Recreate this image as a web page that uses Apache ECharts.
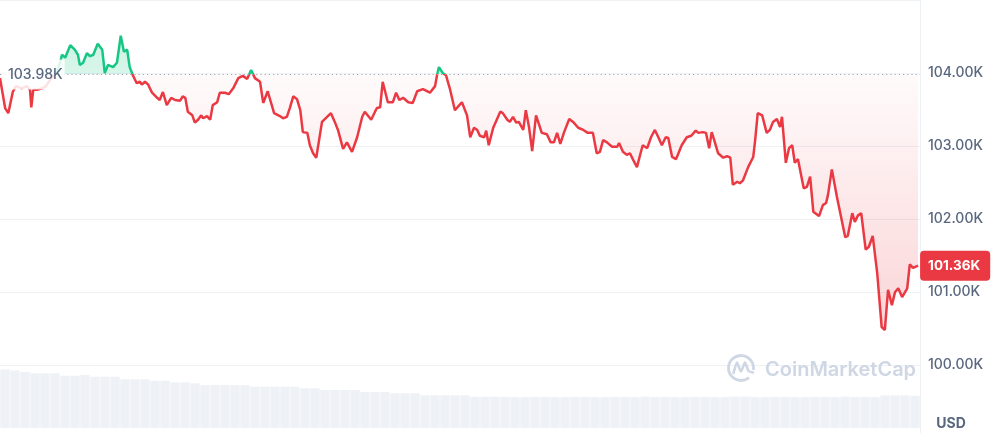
<!DOCTYPE html>
<html><head><meta charset="utf-8">
<script src="https://cdn.jsdelivr.net/npm/echarts@6/dist/echarts.min.js"></script>
<style>html,body{margin:0;padding:0;background:#fff}#c{width:998px;height:433px}</style>
</head><body><div id="c"></div>
<script>
// minutes since the start of the 24h window
const times = [0,8,13,20,25,34,42,47,49,52,58,66,72,78,85,91,94,97,102,110,117,122,125,130,136,141,146,153,160,164,169,177,183,189,194,199,203,208,214,219,222,227,232,238,246,250,255,261,268,274,282,286,290,294,301,305,310,315,318,324,329,333,340,344,352,358,365,373,380,387,393,399,407,412,419,429,438,443,449,454,459,465,470,474,481,485,490,495,504,507,518,524,529,537,543,551,559,567,571,581,587,590,595,599,607,615,620,625,631,639,646,653,662,673,681,684,687,693,698,704,712,718,723,731,736,742,747,751,758,761,765,772,776,783,787,794,798,803,808,812,819,823,828,833,839,842,848,856,862,867,872,877,883,891,897,905,913,920,928,934,939,944,950,958,966,969,975,981,986,991,997,1002,1006,1013,1019,1025,1031,1036,1042,1046,1052,1058,1061,1067,1075,1082,1089,1093,1100,1105,1110,1114,1119,1124,1132,1138,1143,1147,1154,1158,1163,1171,1179,1182,1186,1193,1200,1205,1210,1216,1221,1224,1230,1235,1240,1244,1249,1258,1263,1268,1273,1282,1288,1293,1296,1302,1310,1323,1327,1334,1338,1343,1348,1355,1360,1366,1373,1380,1385,1390,1396,1401,1406,1412,1420,1424,1429,1437];
// price in thousands of USD
const prices = [103.93,103.52,103.45,103.74,103.82,103.79,103.82,103.77,103.53,103.77,103.77,103.79,103.82,103.90,103.97,104.07,104.14,104.25,104.21,104.38,104.32,104.25,104.11,104.14,104.27,104.23,104.25,104.40,104.32,104.00,104.11,104.08,104.14,104.51,104.29,104.32,104.08,103.97,103.86,103.88,103.84,103.88,103.84,103.73,103.66,103.63,103.74,103.56,103.66,103.63,103.62,103.68,103.66,103.47,103.42,103.32,103.36,103.42,103.38,103.41,103.36,103.56,103.60,103.73,103.73,103.71,103.79,103.93,103.96,103.92,104.04,103.93,103.88,103.59,103.75,103.45,103.41,103.38,103.40,103.53,103.68,103.64,103.49,103.19,103.18,103.01,102.90,102.84,103.33,103.32,103.45,103.33,103.22,102.96,103.05,102.92,103.12,103.40,103.47,103.36,103.47,103.52,103.53,103.88,103.60,103.60,103.73,103.63,103.66,103.60,103.59,103.75,103.78,103.73,103.82,103.97,104.08,104.00,103.97,103.79,103.49,103.55,103.60,103.42,103.12,103.25,103.22,103.14,103.12,103.21,103.01,103.25,103.33,103.47,103.45,103.36,103.33,103.40,103.32,103.33,103.22,103.49,103.26,102.93,103.42,103.40,103.18,103.16,103.05,103.05,103.18,103.03,103.19,103.37,103.33,103.25,103.22,103.18,103.18,102.90,102.92,103.08,103.05,102.99,102.99,103.04,102.92,102.88,102.90,102.81,102.71,102.88,103.01,102.97,103.12,103.22,103.11,103.01,103.12,103.11,102.85,102.82,102.88,103.01,103.12,103.14,103.21,103.18,103.19,103.18,102.97,103.19,103.05,102.90,102.84,102.86,102.84,102.47,102.51,102.49,102.53,102.71,102.85,103.08,103.45,103.42,103.18,103.22,103.33,103.37,103.26,103.40,102.77,102.97,103.01,102.77,102.82,102.42,102.44,102.58,102.10,102.04,102.19,102.22,102.33,102.68,102.30,101.75,101.77,102.08,101.96,102.05,102.08,101.58,101.62,101.77,101.26,100.52,100.48,101.03,100.82,101.00,101.05,100.93,101.05,101.38,101.33,101.36];
// volume bars (billions USD)
const volumes = [41.0,40.3,39.2,38.3,38.3,38.3,36.6,36.6,37.1,35.9,35.9,35.9,34.1,34.1,34.1,33.1,33.1,32.0,32.0,31.3,30.1,30.1,30.1,30.1,30.1,28.9,28.9,28.9,28.9,28.9,27.8,27.8,26.6,26.6,26.6,26.6,25.2,25.2,25.2,24.3,24.3,24.3,22.9,22.9,22.9,22.9,22.9,21.9,21.9,21.9,21.7,21.7,21.7,21.7,21.7,21.7,21.7,21.7,21.7,21.7,21.7,21.7,21.7,21.7,22.0,21.7,21.7,21.7,21.7,21.7,21.7,21.7,21.7,22.0,22.0,21.7,21.7,21.7,21.7,21.7,21.7,21.7,21.7,21.7,22.0,21.7,21.7,21.7,22.8,22.8,22.8,22.5];
const baseline = 103.98;
const yTicks = [100, 101, 102, 103, 104];

const GREEN = '#16c784', RED = '#ea3943', GREY = '#58667e';
const data = times.map((t, i) => [t, prices[i]]);
const pMax = Math.max(...prices), pMin = Math.min(...prices);
const b = (pMax - baseline) / (pMax - pMin);

const chart = echarts.init(document.getElementById('c'), null, {renderer: 'canvas'});
chart.setOption({
  animation: false,
  backgroundColor: '#fff',
  textStyle: {fontFamily: 'Inter'},
  grid: [
    {left: 0, right: 78, top: 0, height: 438, outerBoundsMode: 'none', containLabel: false},
    {left: 0, right: 78, top: 368, bottom: 5, outerBoundsMode: 'none', containLabel: false}
  ],
  xAxis: [
    {type: 'value', min: 0, max: 1440, show: false, gridIndex: 0},
    {type: 'category', data: volumes.map((v, i) => i), show: false, gridIndex: 1}
  ],
  yAxis: [
    {type: 'value', position: 'right', min: 99, max: 105, interval: 1, gridIndex: 0,
     axisLine: {show: true, onZero: false, lineStyle: {color: '#eff2f5'}},
     axisTick: {show: false},
     splitLine: {lineStyle: {color: '#eff2f5'}},
     axisLabel: {margin: 8, color: GREY, fontSize: 14, fontWeight: 500, fontFamily: 'Inter',
       formatter: v => yTicks.includes(v) ? v.toFixed(2) + 'K' : ''}},
    {type: 'value', min: 0, max: 42, gridIndex: 1, show: false}
  ],
  visualMap: {
    type: 'piecewise', show: false, seriesIndex: 0, dimension: 1,
    pieces: [{gt: baseline, lte: 200, color: GREEN}, {gt: 0, lte: baseline, color: RED}]
  },
  graphic: [
    {type: 'arc', shape: {cx: 741, cy: 368, r: 12.5, startAngle: Math.PI * 0.28, endAngle: Math.PI * 2.05},
     style: {stroke: '#cfd6e4', lineWidth: 2.8, fill: null}, z: 1},
    {type: 'polyline', shape: {points: [[733.5,373],[737,362.5],[741,371.5],[745,362.5],[748.5,371],[753,372.5]], smooth: 0.2},
     style: {stroke: '#cfd6e4', lineWidth: 2.6, fill: null, lineJoin: 'round', lineCap: 'round'}, z: 1},
    {type: 'text', x: 765, y: 370, z: 1,
     style: {text: 'CoinMarketCap', fontSize: 20, fontWeight: 600, fontFamily: 'Inter', fill: '#cfd6e4', verticalAlign: 'middle'}},
    {type: 'text', x: 951, y: 424, z: 1,
     style: {text: 'USD', fontSize: 14, fontWeight: 700, fontFamily: 'Inter', fill: GREY, align: 'center', verticalAlign: 'middle'}}
  ],
  series: [
    {
      type: 'line', data: data, xAxisIndex: 0, yAxisIndex: 0,
      showSymbol: false, symbol: 'none', z: 3,
      lineStyle: {width: 2.5},
      areaStyle: {
        origin: baseline,
        color: {type: 'linear', x: 0, y: 0, x2: 0, y2: 1, colorStops: [
          {offset: 0, color: 'rgba(22,199,132,0.30)'},
          {offset: b, color: 'rgba(22,199,132,0.24)'},
          {offset: b, color: 'rgba(234,57,67,0.03)'},
          {offset: 1, color: 'rgba(234,57,67,0.30)'}
        ]}
      },
      endLabel: {
        show: true, distance: 2, formatter: p => p.value[1].toFixed(2) + 'K',
        color: '#fff', backgroundColor: RED, fontSize: 13.5, fontWeight: 700, fontFamily: 'Inter',
        padding: [8, 10, 8, 8], borderRadius: 4
      },
      markLine: {
        silent: true, symbol: 'none',
        lineStyle: {type: [1.2, 3], color: '#a1a7bb', width: 1.2},
        label: {position: 'insideStart', distance: [3, 0], formatter: baseline.toFixed(2) + 'K',
          color: GREY, fontSize: 14, fontWeight: 500, fontFamily: 'Inter',
          backgroundColor: 'rgba(255,255,255,0.85)', padding: [11, 2, 5, 5]},
        data: [{yAxis: baseline}]
      }
    },
    {
      type: 'bar', data: volumes, xAxisIndex: 1, yAxisIndex: 1, silent: true,
      barCategoryGap: '6%', itemStyle: {color: '#eef1f5'}, z: 1
    }
  ]
});
</script></body></html>
